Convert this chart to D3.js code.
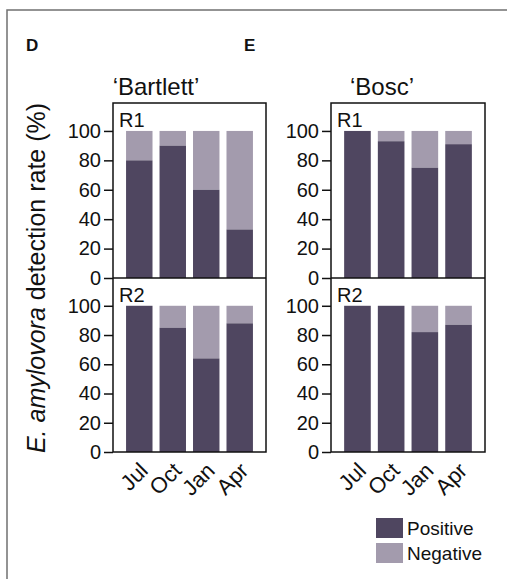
<!DOCTYPE html>
<html>
<head>
<meta charset="utf-8">
<script src="https://cdn.jsdelivr.net/npm/d3@7"></script>
<style>
  body { margin: 0; background: #fff; }
  text { font-family: "Liberation Sans", Arial, sans-serif; fill: #111; }
</style>
</head>
<body>
<script>
var months = ["Jul", "Oct", "Jan", "Apr"];
var rows = ["R1", "R2"];
var cultivars = ["\u2018Bartlett\u2019", "\u2018Bosc\u2019"];
var letters = ["D", "E"];
var yTicks = [0, 20, 40, 60, 80, 100];

// positive detection rate (%), negative is the rest up to 100
var bartlettR1 = [80, 90, 60, 33];
var bartlettR2 = [100, 85, 64, 88];
var boscR1 = [100, 93, 75, 91];
var boscR2 = [100, 100, 82, 87];

var posColor = "#4f4660";
var negColor = "#a39bad";

var width = 507, height = 579;
var svg = d3.select("body").append("svg").attr("width", width).attr("height", height);

// outer figure frame
svg.append("rect")
  .attr("x", 7).attr("y", 10)
  .attr("width", width).attr("height", height)
  .attr("fill", "none").attr("stroke", "#707070").attr("stroke-width", 1.5);

var panels = [
  { x0: 113, x1: 266, titleX: 156, data: [bartlettR1, bartlettR2] },
  { x0: 331, x1: 485, titleX: 382, data: [boscR1, boscR2] }
];
var yTop = 103, yMid = 278, yBottom = 452;
var rowRanges = [[yMid, yTop], [yBottom, yMid]];

panels.forEach(function(p, pi) {
  var g = svg.append("g");

  g.append("text").text(letters[pi])
    .attr("x", p.x0 - 87).attr("y", 51)
    .style("font-weight", "bold").style("font-size", "17px");

  g.append("text").text(cultivars[pi])
    .attr("x", p.titleX).attr("y", 95)
    .attr("text-anchor", "middle").style("font-size", "24px");

  var x = d3.scaleBand().domain(months).range([p.x0, p.x1])
    .paddingInner(0.21).paddingOuter(0.39);

  rows.forEach(function(r, ri) {
    var y = d3.scaleLinear().domain([0, 119]).range(rowRanges[ri]);
    var vals = p.data[ri];

    g.selectAll(".neg" + ri).data(vals).enter().append("rect")
      .attr("x", function(d, i) { return x(months[i]); })
      .attr("width", x.bandwidth())
      .attr("y", y(100))
      .attr("height", function(d) { return y(d) - y(100); })
      .attr("fill", negColor);

    g.selectAll(".pos" + ri).data(vals).enter().append("rect")
      .attr("x", function(d, i) { return x(months[i]); })
      .attr("width", x.bandwidth())
      .attr("y", function(d) { return y(d); })
      .attr("height", function(d) { return y(0) - y(d); })
      .attr("fill", posColor);

    var ax = g.append("g")
      .attr("transform", "translate(" + p.x0 + ",0)")
      .call(d3.axisLeft(y).tickValues(yTicks).tickSize(9).tickPadding(3));
    ax.select(".domain").remove();
    ax.selectAll("line").attr("stroke", "#111").attr("stroke-width", 1.5);
    ax.selectAll("text").style("font-size", "20px")
      .style("font-family", "'Liberation Sans', Arial, sans-serif").attr("fill", "#111");

    g.append("text").text(r)
      .attr("x", p.x0 + 6).attr("y", rowRanges[ri][1] + 24)
      .style("font-size", "20px");
  });

  // frame around both rows and divider
  g.append("rect")
    .attr("x", p.x0).attr("y", yTop)
    .attr("width", p.x1 - p.x0).attr("height", yBottom - yTop)
    .attr("fill", "none").attr("stroke", "#111").attr("stroke-width", 1.5);
  g.append("line")
    .attr("x1", p.x0).attr("x2", p.x1).attr("y1", yMid).attr("y2", yMid)
    .attr("stroke", "#111").attr("stroke-width", 1.5);

  g.selectAll(".month").data(months).enter().append("text")
    .text(function(d) { return d; })
    .attr("text-anchor", "end")
    .attr("transform", function(d) {
      return "translate(" + (x(d) + x.bandwidth() / 2 + 10) + "," + (yBottom + 20) + ") rotate(-45)";
    })
    .style("font-size", "22px");
});

// y axis title
svg.append("text")
  .attr("transform", "translate(45,278) rotate(-90)")
  .attr("text-anchor", "middle")
  .style("font-size", "25px")
  .call(function(t) {
    t.append("tspan").text("E. amylovora").style("font-style", "italic");
    t.append("tspan").text(" detection rate (%)");
  });

// legend
var legendItems = ["Positive", "Negative"];
var legendColors = [posColor, negColor];
var lg = svg.append("g").attr("transform", "translate(376,518)");
legendItems.forEach(function(name, i) {
  lg.append("rect").attr("x", 0).attr("y", i * 25)
    .attr("width", 27).attr("height", 20).attr("fill", legendColors[i]);
  lg.append("text").text(name).attr("x", 31).attr("y", i * 25 + 17)
    .style("font-size", "19px");
});
</script>
</body>
</html>
